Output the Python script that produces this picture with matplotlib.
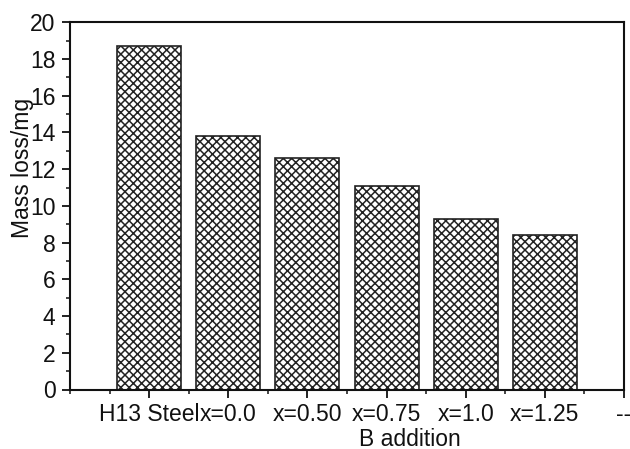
import matplotlib
matplotlib.use("Agg")
import matplotlib.pyplot as plt
from matplotlib.ticker import MultipleLocator

plt.rcParams['font.family'] = ['Liberation Sans', 'DejaVu Sans']
plt.rcParams['hatch.linewidth'] = 1.1

categories = ['H13 Steel', 'x=0.0', 'x=0.50', 'x=0.75', 'x=1.0', 'x=1.25']
tick_labels = categories + ['--']
mass_loss = [18.7, 13.8, 12.6, 11.1, 9.3, 8.4]

fig = plt.figure(figsize=(6.3, 4.49), dpi=100)
ax = fig.add_axes([70/630, 1-389.5/449, (624-70)/630, (389.5-22.3)/449])

positions = list(range(len(categories)))
ax.bar(positions, mass_loss, width=0.81, color='white', edgecolor='#222222',
       linewidth=1.2, hatch='xxxx', zorder=2)

ax.set_xlim(-1, len(tick_labels) - 1)
ax.set_ylim(0, 20)
ax.set_xticks(range(len(tick_labels)))
ax.set_xticklabels(tick_labels)
ax.xaxis.set_minor_locator(MultipleLocator(0.5))
ax.yaxis.set_major_locator(MultipleLocator(2))
ax.yaxis.set_minor_locator(MultipleLocator(1))

for s in ax.spines.values():
    s.set_linewidth(1.5)
    s.set_color('#111111')

ax.tick_params(axis='both', which='major', direction='out', length=5.5, width=1.3,
               labelsize=16.5, colors='#111111')
ax.tick_params(axis='both', which='minor', direction='out', length=3, width=1.1,
               colors='#111111')
ax.tick_params(axis='y', which='major', pad=5)
ax.tick_params(axis='x', which='major', pad=4)
ax.tick_params(top=False, right=False, which='both')

fig.text(22/630, 1-168/449, 'Mass loss/mg', rotation=90, ha='center', va='center',
         fontsize=16.5, color='#111111')
fig.text(410/630, 1-439/449, 'B addition', ha='center', va='center',
         fontsize=16.5, color='#111111')

fig.savefig('out.png', dpi=100)
